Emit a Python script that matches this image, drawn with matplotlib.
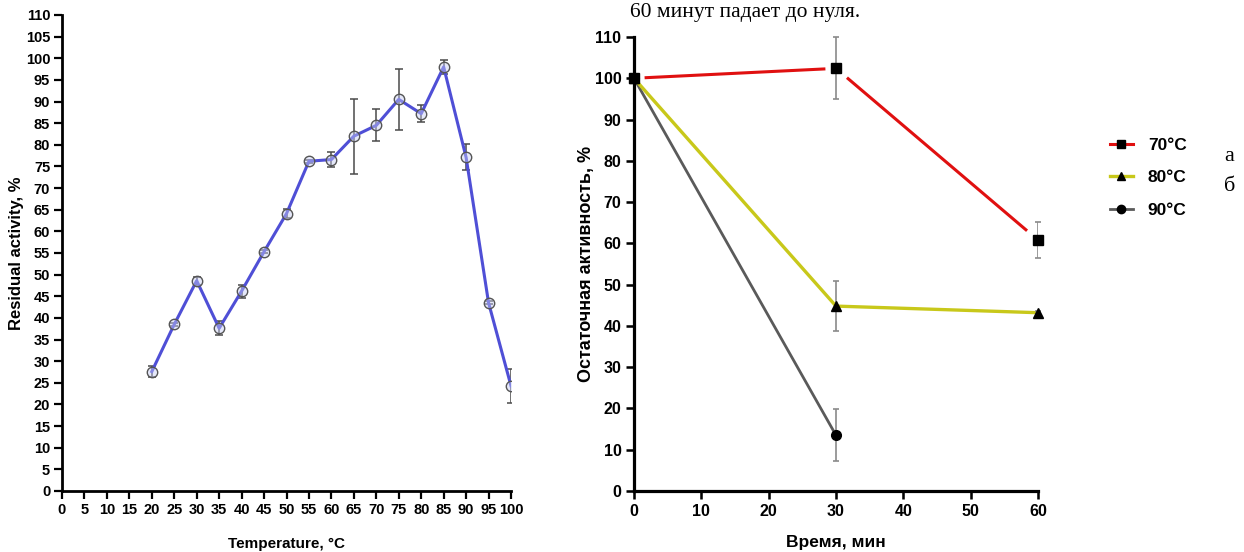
import matplotlib
matplotlib.use("Agg")
import matplotlib.pyplot as plt
import numpy as np
from matplotlib.lines import Line2D

# ---------------- data ----------------
temps = [20, 25, 30, 35, 40, 45, 50, 55, 60, 65, 70, 75, 80, 85, 90, 95, 100]
residual = [27.6, 38.5, 48.6, 37.6, 46.2, 55.3, 64.1, 76.2, 76.6, 82.0, 84.5, 90.5, 87.2, 98.0, 77.1, 43.5, 24.3]
residual_err = [1.3, 0.4, 0.9, 1.6, 1.5, 0.4, 1.0, 0.3, 1.7, 8.7, 3.7, 7.1, 1.9, 1.6, 3.0, 0.3, 4.0]

time_min = [0, 30, 60]
act_70 = [100, 102.4, 60.8]
err_70 = [0, 7.5, 4.4]
act_80 = [100, 44.8, 43.2]
err_80 = [0, 6.0, 0.3]
time_90 = [0, 30]
act_90 = [100, 13.5]
err_90 = [0, 6.3]

series_labels = ["70°C", "80°C", "90°C"]
left_xticks = list(range(0, 101, 5))
left_yticks = list(range(0, 111, 5))
right_xticks = list(range(0, 61, 10))
right_yticks = list(range(0, 111, 10))

top_text = "60 минут падает до нуля."
side_letters = ["а", "б"]

# ---------------- style ----------------
W, H = 1244, 552
fig = plt.figure(figsize=(W / 100, H / 100), dpi=100)
sans = ["Liberation Sans", "DejaVu Sans"]
serif = ["Liberation Serif", "DejaVu Serif"]

def px_axes(x0, x1, y0, y1):
    return fig.add_axes([x0 / W, (H - y0) / H, (x1 - x0) / W, (y0 - y1) / H])

def style_axes(ax, lw, ticklen, fs, pad=2):
    for s in ["top", "right"]:
        ax.spines[s].set_visible(False)
    for s in ["left", "bottom"]:
        ax.spines[s].set_linewidth(lw)
    ax.tick_params(direction="out", length=ticklen, width=lw * 0.8, labelsize=fs, pad=pad)
    for lab in ax.get_xticklabels() + ax.get_yticklabels():
        lab.set_fontfamily(sans)
        lab.set_fontweight("bold")

# ---------------- left chart ----------------
axL = px_axes(62, 511, 491, 15)
axL.errorbar(temps, residual, yerr=residual_err, fmt="none", ecolor="#4a4a4a",
             elinewidth=1.1, capsize=3, capthick=1.1, zorder=2)
axL.plot(temps, residual, color="#4f4fd6", lw=2.2, zorder=3)
axL.plot(temps, residual, ls="none", marker="o", ms=7.5, mfc=(0.78, 0.8, 0.95, 0.45),
         mec="#555555", mew=1.0, zorder=4)
axL.set_xlim(0, 100)
axL.set_ylim(0, 110)
axL.set_xticks(left_xticks)
axL.set_yticks(left_yticks)
style_axes(axL, 2.0, 6, 10.5, pad=2.5)
axL.set_xlabel("Temperature, °C", fontsize=11, fontweight="bold", family=sans, va="center")
axL.xaxis.set_label_coords(0.5, -(544 - 491) / 476)
axL.set_ylabel("Residual activity, %", fontsize=12, fontweight="bold", family=sans, va="center")
axL.yaxis.set_label_coords(-(62 - 17) / 449, 0.5)

# ---------------- right chart ----------------
axR = px_axes(634, 1038, 491, 37)
c70, c80, c90 = "#e01010", "#c8c81a", "#5a5a5a"
ecol = "#8a8a8a"

# 70 °C line with small gaps around the markers
gap = 0.06
for i in range(len(time_min) - 1):
    x0, x1 = time_min[i], time_min[i + 1]
    y0, y1 = act_70[i], act_70[i + 1]
    axR.plot([x0 + gap * (x1 - x0), x1 - gap * (x1 - x0)],
             [y0 + gap * (y1 - y0), y1 - gap * (y1 - y0)], color=c70, lw=2.2, zorder=3)
axR.plot(time_90, act_90, color=c90, lw=2.0, zorder=2)
axR.plot(time_min, act_80, color=c80, lw=2.4, zorder=2)

for xs, ys, es in [(time_min, act_70, err_70), (time_min, act_80, err_80), (time_90, act_90, err_90)]:
    axR.errorbar(xs, ys, yerr=es, fmt="none", ecolor=ecol, elinewidth=1.2,
                 capsize=2, capthick=1.2, zorder=4)
axR.plot(time_90, act_90, ls="none", marker="o", ms=7, color="black", zorder=5)
axR.plot(time_min, act_80, ls="none", marker="^", ms=6.5, color="black", zorder=5)
axR.plot(time_min, act_70, ls="none", marker="s", ms=7, color="black", zorder=6)

axR.set_xlim(0, 60)
axR.set_ylim(0, 110)
axR.set_xticks(right_xticks)
axR.set_yticks(right_yticks)
style_axes(axR, 2.3, 6, 11.5, pad=3)
axR.set_xlabel("Время, мин", fontsize=12.5, fontweight="bold", family=sans, va="center")
axR.xaxis.set_label_coords(0.5, -(542 - 491) / 454)
axR.set_ylabel("Остаточная активность, %", fontsize=13, fontweight="bold", family=sans, va="center")
axR.yaxis.set_label_coords(-(634 - 586) / 404, 0.5)
for art in axR.lines:
    art.set_clip_on(False)

handles = [
    Line2D([], [], color=c70, lw=2.2, marker="s", ms=6, mfc="black", mec="black"),
    Line2D([], [], color=c80, lw=2.4, marker="^", ms=6, mfc="black", mec="black"),
    Line2D([], [], color=c90, lw=2.0, marker="o", ms=6, mfc="black", mec="black"),
]
leg = fig.legend(handles, series_labels, loc="upper left",
                 bbox_to_anchor=(1094 / W, 1 - 122 / H), frameon=False,
                 handlelength=1.35, handletextpad=0.85, labelspacing=1.0,
                 prop={"family": sans, "weight": "bold", "size": 12.5})

# ---------------- surrounding text ----------------
fig.text(630 / W, 1 - 17 / H, top_text, family=serif, fontsize=15.5, va="baseline", ha="left")
fig.text(1224 / W, 1 - 161 / H, side_letters[0], family=serif, fontsize=16, va="baseline", ha="left")
fig.text(1224 / W, 1 - 191 / H, side_letters[1], family=serif, fontsize=16, va="baseline", ha="left")

fig.savefig("out.png", dpi=100)
